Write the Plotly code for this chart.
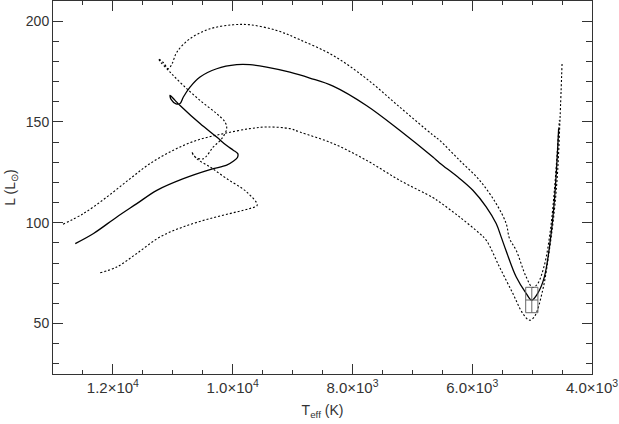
import plotly.graph_objects as go

# best-fit track (solid)
track_teff = [12628, 12323, 11933, 11600, 11267, 10823, 10378, 10100, 9990, 9920,
              9915, 9990, 10100, 10267, 10545, 10878, 10962, 11045, 11028, 10945,
              10878, 10823, 10712, 10545, 10267, 9933, 9712, 9433, 9045, 8712, 8323,
              7767, 7212, 6657, 6545, 6212, 5990, 5767, 5600, 5517, 5433, 5267,
              5100, 5007, 4907, 4795, 4683, 4628, 4590, 4557]
track_lum = [89.7, 94.7, 102.9, 109.5, 116.1, 121.9, 126.4, 128.6, 130.5, 132.4,
             134.3, 136.0, 138.3, 142.5, 149.2, 158.2, 160.7, 163.2, 161.2, 159.0,
             159.2, 162.4, 167.3, 172.3, 176.4, 178.4, 178.4, 177.2, 174.7, 171.8, 167.8,
             158.2, 145.9, 132.6, 129.7, 122.0, 116.1, 107.9, 99.6, 93.0, 86.0, 73.2,
             65.0, 61.6, 65.0, 73.2, 94.7, 111.2, 127.7, 146.7]

# upper bound track (dotted, starts near L=100)
upper_teff = [12833, 12490, 12100, 11712, 11378, 10990, 10600, 10157, 9712, 9433,
              9045, 8878, 8323, 7767, 7212, 6657, 6545, 6212, 5878, 5767, 5545,
              5323, 5157, 5045, 4962, 4823, 4712, 4628, 4573, 4533, 4500]
upper_lum = [99.3, 104.6, 112.8, 121.9, 129.4, 136.0, 140.9, 144.2, 146.7, 147.5,
             146.7, 145.0, 139.3, 131.0, 121.1, 112.5, 110.3, 102.9, 94.7, 91.4, 78.1,
             65.0, 55.1, 51.7, 53.4, 66.6, 86.4, 106.2, 126.0, 152.4, 178.9]

# lower bound track (dotted, starts near L=75)
lower_teff = [12212, 11933, 11600, 11212, 10823, 10378, 9933, 9712, 9590, 9767,
              10100, 10378, 10600, 10683, 10628, 10490, 10323, 10183, 10100, 10128,
              10267, 10545, 10823, 11045, 11210, 11240, 11160, 11073, 11010, 10933,
              10712, 10378, 9990, 9712, 9267, 8878, 8323, 7767, 7212, 6657, 6545,
              6212, 5878, 5600, 5433, 5378, 5267, 5100, 4990, 4912, 4795, 4695,
              4628, 4578, 4545]
lower_lum = [75.2, 78.1, 84.8, 93.0, 98.0, 102.1, 105.4, 107.1, 108.7, 115.3,
             121.9, 127.7, 131.8, 135.1, 132.6, 131.8, 137.6, 141.7, 146.7, 150.0,
             154.1, 160.7, 168.1, 174.7, 180.0, 181.4, 179.5, 176.4, 179.0, 184.6,
             191.3, 196.2, 198.2, 198.2, 195.4, 190.8, 183.0, 171.5, 157.4, 143.5, 140.9,
             131.0, 121.1, 109.5, 99.6, 92.2, 86.4, 73.2, 67.9, 69.6, 79.0, 96.3,
             116.1, 136.0, 150.8]

# observed star: Teff, L with errors
obs_teff = [5005]
obs_teff_err = [102]
obs_lum = [61.7]
obs_lum_err = [6.3]

x_ticks = [12000, 10000, 8000, 6000, 4000]
x_ticktext = ["1.2×10<sup>4</sup>", "1.0×10<sup>4</sup>", "8.0×10<sup>3</sup>",
              "6.0×10<sup>3</sup>", "4.0×10<sup>3</sup>"]

fig = go.Figure()
fig.add_trace(go.Scatter(x=upper_teff, y=upper_lum, mode="lines",
                         line=dict(color="black", width=1.1, dash="2px,2px", shape="spline")))
fig.add_trace(go.Scatter(x=lower_teff, y=lower_lum, mode="lines",
                         line=dict(color="black", width=1.1, dash="2px,2px", shape="spline")))
fig.add_trace(go.Scatter(x=track_teff, y=track_lum, mode="lines",
                         line=dict(color="black", width=1.3, shape="spline")))

# error box with cross
box_col = "#666666"
for t, dt, l, dl in zip(obs_teff, obs_teff_err, obs_lum, obs_lum_err):
    fig.add_shape(type="rect", x0=t - dt, x1=t + dt, y0=l - dl, y1=l + dl,
                  line=dict(color=box_col, width=1))
    fig.add_shape(type="line", x0=t, x1=t, y0=l - dl, y1=l + dl,
                  line=dict(color=box_col, width=1))
    fig.add_shape(type="line", x0=t - dt, x1=t + dt, y0=l, y1=l,
                  line=dict(color=box_col, width=1))

axis_common = dict(showline=True, linecolor="#333333", linewidth=1, mirror="allticks",
                   ticks="inside", ticklen=10, tickcolor="#333333", showgrid=False,
                   zeroline=False, automargin=False)

fig.update_xaxes(range=[13000, 4000], tickmode="array", tickvals=x_ticks, ticktext=x_ticktext,
                 tickfont=dict(size=15, color="#333333"),
                 minor=dict(tickmode="linear", tick0=0, dtick=500, ticks="inside", ticklen=4,
                            tickcolor="#333333"),
                 title=dict(text="T<sub>eff</sub> (K)", font=dict(size=14, color="#333333"),
                            standoff=10),
                 **axis_common)
fig.update_yaxes(range=[25, 210], tickmode="linear", tick0=0, dtick=50,
                 tickfont=dict(size=14, color="#333333"),
                 minor=dict(tickmode="linear", tick0=0, dtick=10, ticks="inside", ticklen=6,
                            tickcolor="#333333"),
                 title=dict(text="L (L<sub>⊙</sub>)", font=dict(size=14, color="#333333"),
                            standoff=6),
                 **axis_common)

fig.update_layout(width=619, height=424, showlegend=False,
                  margin=dict(l=53, r=27, t=1, b=50),
                  paper_bgcolor="white", plot_bgcolor="white",
                  font=dict(family="Liberation Sans, Arial, sans-serif", color="#333333"))
# drop the default page margin so the figure sits at the window's top-left corner
fig.write_html("out.html", config={"displayModeBar": False},
               post_script="document.body.style.margin='0';")
